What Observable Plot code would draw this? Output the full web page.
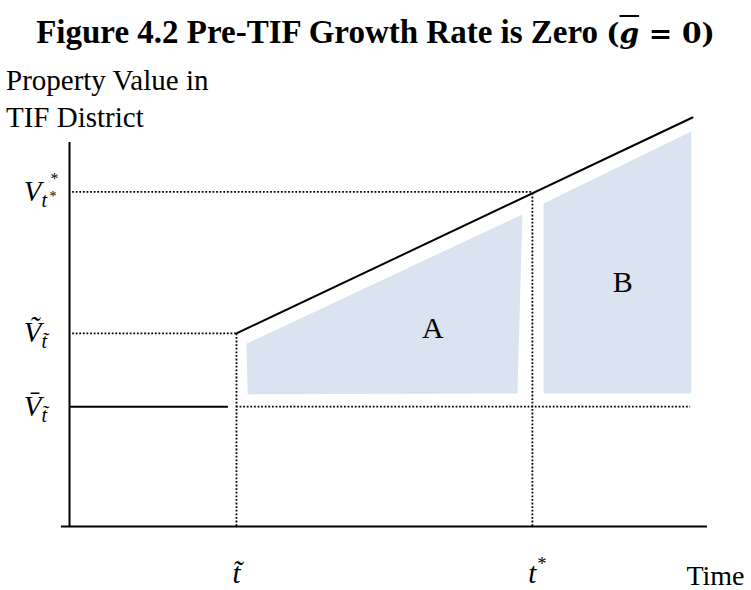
<!DOCTYPE html>
<html>
<head>
<meta charset="utf-8">
<script src="https://cdn.jsdelivr.net/npm/d3@7"></script>
<script src="https://cdn.jsdelivr.net/npm/@observablehq/plot@0.6"></script>
<style>
  html, body { margin: 0; padding: 0; background: #fff; }
  #wrap { position: relative; width: 751px; height: 590px; overflow: hidden; font-family: "Liberation Serif", "Times New Roman", serif; color: #000; }
  #title { position: absolute; left: 0; top: 14px; width: 751px; text-align: center; font-weight: bold; font-size: 33px; line-height: 36px; white-space: nowrap; }
  #title .m { font-family: "DejaVu Serif", serif; font-size: 28px; }
  #title .g { font-style: italic; text-decoration: overline; text-decoration-thickness: 2px; }
  #ylab { position: absolute; left: 6px; top: 62px; font-size: 29px; line-height: 37px; }
  #chart { position: absolute; left: 0; top: 50px; }
</style>
</head>
<body>
<div id="wrap">
  <div id="title">Figure 4.2 Pre-TIF Growth Rate is Zero <span class="m">(<span class="g">g</span> = 0)</span></div>
  <div id="ylab">Property Value in<br>TIF District</div>
  <div id="chart"></div>
</div>
<script>
// ---- values (abstract units: time 0..10, value 0..10) ----
const tTilde = 2.68;          // start of TIF
const tStar = 7.43;           // end of TIF
const tEnd = 10;              // right end of the growth line
const vBar = 2.93;            // pre-TIF value
const vTilde = 4.72;          // value at t~
const vStar = 8.18;           // value at t*
const vEnd = 10;              // value at right end

const flatX = [0, 2.55];      // pre-TIF flat segment (value vBar)
const growthX = [tTilde, tEnd];
const growthY = [vTilde, vEnd];

const axisXExtent = [-0.13, 10.24];
const axisYExtent = [0, 9.39];

// shaded areas A and B (corner points)
const areaAx = [2.84, 7.27, 7.19, 2.86];
const areaAy = [4.47, 7.63, 3.25, 3.23];
const areaBx = [7.61, 9.98, 9.98, 7.61];
const areaBy = [7.90, 9.66, 3.25, 3.25];
const areaNames = ["A", "B"];
const areaLabelX = [5.83, 8.88];
const areaLabelY = [4.84, 5.97];

// tick labels
const xTickValues = [tTilde, tStar];
const xTickMain = ["t\u0303", "t"];
const xTickSup = ["", "*"];
const yTickValues = [vStar, vTilde, vBar];
const yTickMain = ["V", "V\u0303", "V\u0304"];
const yTickSub = ["t", "t\u0303", "t\u0303"];
const yTickSubSup = ["*", "", ""];
const yTickSup = ["*", "", ""];
const xAxisTitle = "Time";

// ---- build tables ----
const polys = [
  ...areaAx.map((x, i) => ({x, y: areaAy[i], name: "A"})),
  ...areaBx.map((x, i) => ({x, y: areaBy[i], name: "B"}))
];
const areaLabels = areaNames.map((n, i) => ({n, x: areaLabelX[i], y: areaLabelY[i]}));
const growth = growthX.map((x, i) => ({x, y: growthY[i]}));
const xTicks = xTickValues.map((x, i) => ({x, main: xTickMain[i], sup: xTickSup[i]}));
const yTicks = yTickValues.map((y, i) => ({y, main: yTickMain[i], sub: yTickSub[i], subsup: yTickSubSup[i], sup: yTickSup[i]}));

const dotted = {stroke: "#000", strokeWidth: 1.8, strokeDasharray: "1.8,1.8"};
const mathFont = "Liberation Serif";

const chart = Plot.plot({
  width: 751,
  height: 540,
  marginLeft: 69,
  marginRight: 59,
  marginTop: 67,
  marginBottom: 64,
  x: {domain: [0, 10], axis: null},
  y: {domain: [0, 10], axis: null},
  style: {fontFamily: "Liberation Serif", background: "transparent", overflow: "visible"},
  marks: [
    // shaded areas (closed polygons)
    Plot.line(polys, {x: "x", y: "y", z: "name", fill: "#dae3f0", stroke: "none"}),
    // dotted guides
    Plot.ruleY([vStar], {x1: 0.05, x2: tStar, ...dotted}),
    Plot.ruleY([vTilde], {x1: 0.05, x2: tTilde, ...dotted}),
    Plot.ruleY([vBar], {x1: tTilde, x2: 9.97, ...dotted}),
    Plot.ruleX([tTilde], {y1: 0, y2: vTilde, ...dotted}),
    Plot.ruleX([tStar], {y1: 0, y2: vStar, ...dotted}),
    // axes
    Plot.ruleY([0], {x1: axisXExtent[0], x2: axisXExtent[1], stroke: "#000", strokeWidth: 2}),
    Plot.ruleX([0], {y1: axisYExtent[0], y2: axisYExtent[1], stroke: "#000", strokeWidth: 2}),
    // value paths
    Plot.ruleY([vBar], {x1: flatX[0], x2: flatX[1], stroke: "#000", strokeWidth: 2}),
    Plot.line(growth, {x: "x", y: "y", stroke: "#000", strokeWidth: 2}),
    // area labels
    Plot.text(areaLabels, {x: "x", y: "y", text: "n", fontSize: 30, fill: "#000"}),
    // x tick labels
    Plot.text(xTicks, {x: "x", frameAnchor: "bottom", text: "main", lineAnchor: "bottom", dy: 56, fontSize: 29, fontStyle: "italic", fontFamily: mathFont, fill: "#000"}),
    Plot.text(xTicks, {x: "x", frameAnchor: "bottom", text: "sup", lineAnchor: "bottom", textAnchor: "start", dx: 5, dy: 43, fontSize: 18, fontFamily: mathFont, fill: "#000"}),
    Plot.text([xAxisTitle], {frameAnchor: "bottom-right", text: d => d, textAnchor: "end", lineAnchor: "bottom", dx: 52, dy: 58, fontSize: 28, fill: "#000"}),
    // y tick labels
    Plot.text(yTicks, {y: "y", frameAnchor: "left", text: "main", textAnchor: "end", lineAnchor: "bottom", dx: -28, dy: 9, fontSize: 29, fontStyle: "italic", fontFamily: mathFont, fill: "#000"}),
    Plot.text(yTicks, {y: "y", frameAnchor: "left", text: "sub", textAnchor: "start", lineAnchor: "bottom", dx: -28, dy: 15, fontSize: 20, fontStyle: "italic", fontFamily: mathFont, fill: "#000"}),
    Plot.text(yTicks, {y: "y", frameAnchor: "left", text: "subsup", textAnchor: "start", lineAnchor: "bottom", dx: -20, dy: 9, fontSize: 14, fontFamily: mathFont, fill: "#000"}),
    Plot.text(yTicks, {y: "y", frameAnchor: "left", text: "sup", textAnchor: "start", lineAnchor: "bottom", dx: -19, dy: -8, fontSize: 16, fontFamily: mathFont, fill: "#000"})
  ]
});
document.getElementById("chart").appendChild(chart);
</script>
</body>
</html>
